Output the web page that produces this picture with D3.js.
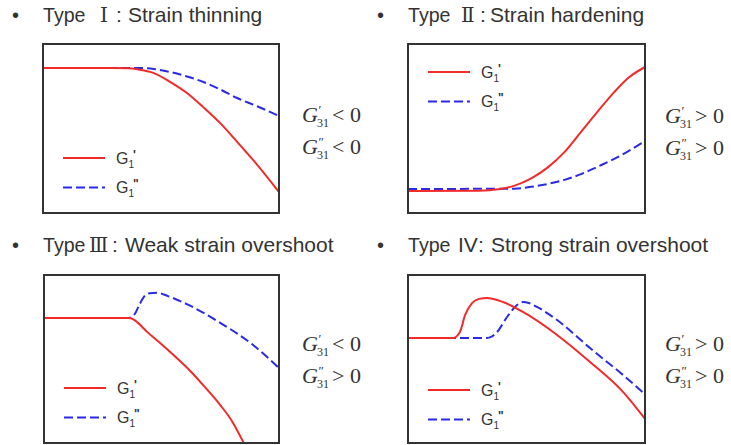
<!DOCTYPE html>
<html>
<head>
<meta charset="utf-8">
<script src="https://cdn.jsdelivr.net/npm/d3@7"></script>
<style>
  html, body { margin: 0; padding: 0; background: #fff; }
  svg { display: block; }
</style>
</head>
<body>
<svg id="chart" width="731" height="445"></svg>
<script>
// Normalised strain sweep (x) vs. modulus (y), both on a 0–100 scale.
// Type I: strain thinning
const typeI_storage = [[0,85.8],[30,85.8],[36,85.6],[40,85.0],[47,82.8],[54,77.5],[61,71],[68,62.5],[75,53.3],[82,42.5],[89,31.4],[100,12.4]];
const typeI_loss    = [[0,85.8],[40,85.8],[47,85.2],[54,83.4],[61,80.8],[68,77.5],[75,73.2],[82,68.2],[91,63],[100,57.4]];
// Type II: strain hardening
const typeII_storage = [[0,13],[30,13.2],[38,14],[45,16.2],[52,20.5],[59,27],[66,36],[73,48],[80,60],[87,71.5],[93,80],[100,86.4]];
const typeII_loss    = [[0,14.2],[45,14.4],[52,15.5],[59,17.2],[66,19.6],[73,23],[80,27.4],[87,32],[93,36.6],[100,42.6]];
// Type III: weak strain overshoot
const typeIII_storage = [[0,74.4],[36,74.4],[38,73.6],[40,71.5],[44,66],[49.4,59.5],[55,52.5],[61,44.6],[68,34],[75,22.6],[80,13],[85,0]];
const typeIII_loss    = [[0,74.4],[36,74.4],[38.5,76.5],[40.5,82],[42.5,87],[45,89.2],[48,89.5],[53,87.3],[61,82.5],[75,71.5],[89,58.3],[100,44.6]];
// Type IV: strong strain overshoot
const typeIV_storage = [[0,62.5],[19,62.5],[21.9,66.1],[24.1,76.2],[27,83.3],[30,85.8],[33.3,86.3],[40.1,83.9],[48.5,78],[62.9,64.3],[76.8,48.2],[90.7,30.4],[100,14.3]];
const typeIV_loss    = [[0,62.5],[33,62.5],[35.5,63.5],[37.6,66.1],[41.8,75],[46,82.1],[48.5,83.9],[51,83.3],[54.4,81],[62.9,73.2],[76.8,56.5],[90.7,40.5],[100,29]];

const titleNumerals = ["Ⅰ", "Ⅱ", "Ⅲ", "IV"];
const titleTexts = ["Strain thinning", "Strain hardening", "Weak strain overshoot", "Strong strain overshoot"];
const primeSigns = [["<", "<"], [">", ">"], ["<", ">"], [">", ">"]];
const primeMarks = ["′", "″"];
const legendMarks = ["'", "\""];

const panels = [
  { storage: typeI_storage,   loss: typeI_loss,   box: [43, 44, 279, 213] },
  { storage: typeII_storage,  loss: typeII_loss,  box: [408, 44, 645, 213] },
  { storage: typeIII_storage, loss: typeIII_loss, box: [44, 275, 279, 443] },
  { storage: typeIV_storage,  loss: typeIV_loss,  box: [408, 275, 645, 443] }
];
// legend vertical offset from panel top
const legendTop = [114, 28, 113, 115];
// title baseline; numeral, colon and caption x positions
const titleLayout = [
  { x: 43,  y: 22,  nx: 100, cx: 116, rx: 128 },
  { x: 408, y: 22,  nx: 461, cx: 480, rx: 490 },
  { x: 43,  y: 252, nx: 89,  cx: 112, rx: 125 },
  { x: 408, y: 252, nx: 458, cx: 478, rx: 491 }
];
const labelLayout = [
  { x: 302, y: 122 },
  { x: 665, y: 123 },
  { x: 302, y: 351 },
  { x: 665, y: 351 }
];

const RED = "#f22a2a", BLUE = "#2a2ae6", INK = "#333";
const SANS = "Liberation Sans, Arial, sans-serif";
const SERIF = "Liberation Serif, Times New Roman, serif";
const svg = d3.select("#chart");
svg.append("rect").attr("width", 731).attr("height", 445).attr("fill", "#fff");

panels.forEach((p, i) => {
  const [x0, y0, x1, y1] = p.box;
  const x = d3.scaleLinear().domain([0, 100]).range([x0, x1]);
  const y = d3.scaleLinear().domain([0, 100]).range([y1, y0]);
  const line = d3.line().x(d => x(d[0])).y(d => y(d[1])).curve(d3.curveMonotoneX);

  const clipId = "clip" + i;
  svg.append("clipPath").attr("id", clipId)
    .append("rect").attr("x", x0).attr("y", y0).attr("width", x1 - x0).attr("height", y1 - y0);

  const g = svg.append("g");
  const plot = g.append("g").attr("clip-path", `url(#${clipId})`);
  plot.append("path").datum(p.loss).attr("d", line)
    .attr("fill", "none").attr("stroke", BLUE).attr("stroke-width", 2).attr("stroke-dasharray", "9,4");
  plot.append("path").datum(p.storage).attr("d", line)
    .attr("fill", "none").attr("stroke", RED).attr("stroke-width", 2);

  g.append("rect").attr("x", x0).attr("y", y0).attr("width", x1 - x0).attr("height", y1 - y0)
    .attr("fill", "none").attr("stroke", INK).attr("stroke-width", 2);

  // legend
  const ly = y0 + legendTop[i];
  [[RED, null], [BLUE, "9,4"]].forEach(([c, dash], k) => {
    const yy = ly + k * 29.5;
    const seg = g.append("line").attr("x1", x0 + 20).attr("x2", x0 + 62).attr("y1", yy).attr("y2", yy)
      .attr("stroke", c).attr("stroke-width", 2);
    if (dash) seg.attr("stroke-dasharray", dash);
    const t = g.append("text").attr("x", x0 + 73).attr("y", yy + 5.5)
      .attr("font-family", SANS).attr("font-size", 16).attr("fill", INK);
    t.append("tspan").text("G");
    t.append("tspan").attr("font-size", 10).attr("dy", 4).text("1");
    t.append("tspan").attr("font-size", 12).attr("dy", -9).attr("dx", -1).attr("font-weight", "bold").text(legendMarks[k]);
  });

  // title
  const tl = titleLayout[i];
  svg.append("text").attr("x", tl.x - 31).attr("y", tl.y)
    .attr("font-family", SANS).attr("font-size", 20).attr("fill", INK).text("•");
  const tt = svg.append("text").attr("y", tl.y)
    .attr("font-family", SANS).attr("font-size", 21).attr("fill", INK);
  tt.append("tspan").attr("x", tl.x).attr("textLength", 42.5).attr("lengthAdjust", "spacingAndGlyphs").text("Type");
  tt.append("tspan").attr("x", tl.nx)
    .attr("font-family", i < 3 ? "DejaVu Serif, Liberation Serif, serif" : SANS)
    .attr("font-size", i < 3 ? 20 : 21)
    .text(titleNumerals[i]);
  tt.append("tspan").attr("x", tl.cx).text(":");
  tt.append("tspan").attr("x", tl.rx).text(titleTexts[i]);

  // derivative sign labels
  const lb = labelLayout[i];
  primeMarks.forEach((pr, k) => {
    const by = lb.y + k * 32;
    const t = svg.append("text").attr("x", lb.x).attr("y", by)
      .attr("font-family", SERIF).attr("fill", INK).attr("font-size", 22);
    t.append("tspan").attr("font-style", "italic").text("G");
    t.append("tspan").attr("font-size", 13).attr("dx", 0.5).attr("dy", -8).text(pr);
    t.append("tspan").attr("font-size", 12).attr("x", lb.x + 15).attr("dy", 13).text("31");
    t.append("tspan").attr("x", lb.x + 30).attr("dy", -5).text(primeSigns[i][k] + " 0");
  });
});
</script>
</body>
</html>
